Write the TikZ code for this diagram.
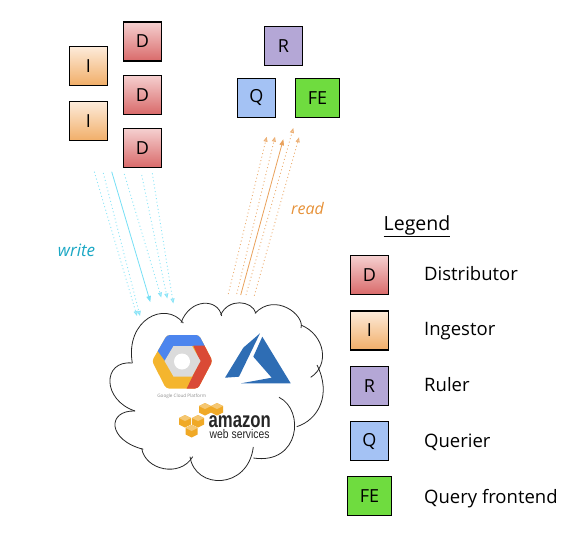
\documentclass[tikz,border=0pt]{standalone}
\usepackage{fontspec}
\setmainfont{Open Sans}
\newfontfamily\awsfont{Liberation Sans}
\usepackage{tikz}
\usetikzlibrary{positioning, arrows.meta}
\definecolor{redtop}{HTML}{F5D0D0}
\definecolor{redbot}{HTML}{D96A6A}
\definecolor{oratop}{HTML}{FDEBDA}
\definecolor{orabot}{HTML}{F1AE68}
\definecolor{rulerc}{HTML}{B4A7D6}
\definecolor{querc}{HTML}{A4C2F4}
\definecolor{fec}{HTML}{6FDC3F}
\definecolor{wrtc}{HTML}{76DFF5}
\definecolor{wrtt}{HTML}{1AA7C4}
\definecolor{rdc}{HTML}{E9A15B}
\definecolor{rdt}{HTML}{E69138}
\definecolor{gblue}{HTML}{4C85EE}
\definecolor{gred}{HTML}{DA4A36}
\definecolor{gyel}{HTML}{F4B52E}
\definecolor{azc}{HTML}{2E6DB4}
\definecolor{awsc}{HTML}{F0A926}
\newcommand{\awscube}[1]{%
  \fill[awsc, shift={(#1)}] (0,-6) -- (6,-3) -- (6,3.5) -- (0,6.5) -- (-6,3.5) -- (-6,-3) -- cycle;
  \fill[awsc!65!white, shift={(#1)}] (0,-6) -- (6,-3) -- (0,0) -- (-6,-3) -- cycle;}
\begin{document}
\begin{tikzpicture}[x=1pt, y=-1pt, node distance=13pt,
    box/.style={draw, line width=1.2pt, minimum width=38pt, minimum height=39pt,
      inner sep=0pt, font=\fontsize{18}{18}\selectfont},
    dbox/.style={box, top color=redtop, bottom color=redbot},
    ibox/.style={box, top color=oratop, bottom color=orabot},
    rbox/.style={box, fill=rulerc},
    qbox/.style={box, fill=querc},
    febox/.style={box, fill=fec, minimum width=44pt},
    legtext/.style={anchor=base west, inner sep=0pt, font=\fontsize{18.5}{20}\selectfont},
    wflow/.style={wrtc, line width=0.8pt, -{Triangle[length=6pt, width=4.5pt]}},
    rflow/.style={rdc, line width=0.8pt, -{Triangle[length=6pt, width=4.5pt]}},
    wdot/.style={wrtc!85, line width=0.9pt, dash pattern=on 1pt off 2.6pt,
      -{Triangle[open, fill=wrtc!40, length=5pt, width=4pt]}},
    rdot/.style={rdc!85, line width=0.9pt, dash pattern=on 1pt off 2.6pt,
      -{Triangle[open, fill=rdc!40, length=5pt, width=4pt]}},
    lobe/.style={black!85, line width=0.8pt}]
  \useasboundingbox (0,0) rectangle (577,535);
  % write side
  \node (d1) [dbox] at (142.5,41.5) {D};
  \node (d2) [dbox, below=of d1] {D};
  \node (d3) [dbox, below=of d2] {D};
  \node (i1) [ibox] at (88.5,66) {I};
  \node (i2) [ibox, below=15pt of i1] {I};
  % read side
  \node (r1) [rbox] at (283.5,46) {R};
  \node (q1) [qbox] at (256.5,98) {Q};
  \node (fe1) [febox] at (317.5,98) {FE};
  % flows
  \coordinate (w1a) at (94.3,171.7);  \coordinate (w1b) at (137,316);
  \coordinate (w2a) at (103.3,173);   \coordinate (w2b) at (140,316);
  \coordinate (w3a) at (111.7,171.7); \coordinate (w3b) at (150.3,302);
  \coordinate (w4a) at (124.3,174);   \coordinate (w4b) at (161.3,297.5);
  \coordinate (w5a) at (141.7,175);   \coordinate (w5b) at (167.3,298.5);
  \coordinate (w6a) at (152.3,173.3); \coordinate (w6b) at (173.3,303.5);
  \draw[wdot] (w1a)--(w1b);
  \draw[wdot] (w2a)--(w2b);
  \draw[wflow] (w3a)--(w3b);
  \draw[wdot] (w4a)--(w4b);
  \draw[wdot] (w5a)--(w5b);
  \draw[wdot] (w6a)--(w6b);
  \coordinate (r1a) at (228.3,294);   \coordinate (r1b) at (266.7,136.7);
  \coordinate (r2a) at (236.7,294);   \coordinate (r2b) at (275,136.7);
  \coordinate (r3a) at (240.7,295);   \coordinate (r3b) at (283.3,139.3);
  \coordinate (r4a) at (246,295);     \coordinate (r4b) at (293.3,128);
  \coordinate (r5a) at (254.3,295.7); \coordinate (r5b) at (299,137.3);
  \draw[rdot] (r1a)--(r1b);
  \draw[rdot] (r2a)--(r2b);
  \draw[rflow] (r3a)--(r3b);
  \draw[rdot] (r4a)--(r4b);
  \draw[rdot] (r5a)--(r5b);
  \node (wlabel) [wrtt, inner sep=0pt, font=\fontsize{17}{18}\selectfont\itshape] at (76.5,250) {write};
  \node (rlabel) [rdt, inner sep=0pt, font=\fontsize{16}{18}\selectfont\itshape] at (307.5,208) {read};
  % cloud
  \draw[lobe] (132.3,363) .. controls (125,320) and (165,300) .. (183.3,323);
  \draw[lobe] (181,322.7) .. controls (190,298) and (218,298) .. (221.7,316);
  \draw[lobe] (220.7,315) .. controls (228,298) and (252,300) .. (256,313.3);
  \draw[lobe] (255,313.3) .. controls (275,292) and (305,315) .. (301,328);
  \draw[lobe] (301,325) .. controls (325,335) and (330,365) .. (310.7,377.3);
  \draw[lobe] (317,365) .. controls (332,395) and (318,420) .. (296.7,426.7);
  \draw[lobe] (279,397.3) .. controls (305,410) and (300,465) .. (253.3,458);
  \draw[lobe] (253.3,447) .. controls (248,490) and (195,490) .. (190,456.7);
  \draw[lobe] (192.7,456.7) .. controls (180,478) and (145,470) .. (141.7,448.3);
  \draw[lobe] (143.3,449.3) .. controls (107,440) and (107,410) .. (135,411);
  \draw[lobe] (135,411) .. controls (102,400) and (102,360) .. (132.3,363);
  % google logo
  \begin{scope}
    \clip[rounded corners=3pt] (152,361) -- (167,335) -- (199,335) -- (212.5,361) -- (198,388.5) -- (166,388.5) -- cycle;
    \fill[gyel] (145,330) rectangle (220,395);
    \fill[gblue] (157.7,351) -- (165,361) -- (173.5,346) -- (215,345.7) -- (215,330) -- (148,330) -- (148,351) -- cycle;
    \fill[gred] (193.3,345.7) -- (215,345.7) -- (215,395) -- (186.7,395) -- (186.7,388.5) -- (200,361) -- cycle;
  \end{scope}
  \fill[black!14] (164.5,361) -- (173.5,346) -- (192,346) -- (200.5,361) -- (192,376.5) -- (173.5,376.5) -- cycle;
  \fill[white] (182,361.5) circle (8);
  \node (gcp) [inner sep=0pt, black!45, font=\fontsize{4.6}{5}\selectfont] at (181.7,396.7) {Google Cloud Platform};
  % azure logo
  \fill[azc] (260,333.3) -- (243.3,347.7) -- (225,377.7) -- (239,376.7) -- cycle;
  \fill[azc] (262.3,336.7) -- (290.7,383.3) -- (241,383.3) -- (271.7,377.7) -- (253.3,356.7) -- cycle;
  % aws logo
  \awscube{205,409}
  \awscube{217,409}
  \awscube{185,421}
  \awscube{198,421}
  \awscube{191.7,431}
  \node (aws1) [inner sep=0pt, anchor=base west, black!85, font=\awsfont\bfseries\fontsize{22}{22}\selectfont, xscale=.76, transform shape] at (208.5,427.5) {amazon};
  \node (aws2) [inner sep=0pt, anchor=base west, black!85, font=\awsfont\fontsize{12.5}{13}\selectfont, xscale=.83, transform shape] at (209.5,438.5) {web services};
  % legend
  \node (legend) [inner sep=0pt, font=\fontsize{19.5}{20}\selectfont] at (417,226) {\underline{Legend}};
  \node (ld) [dbox] at (369.5,275) {D};
  \node (li) [ibox] at (369.5,330.5) {I};
  \node (lr) [rbox] at (369.5,386) {R};
  \node (lq) [qbox] at (369.5,441) {Q};
  \node (lfe) [febox] at (369.5,496) {FE};
  \node (tdist) [legtext] at (424,280) {Distributor};
  \node (ting) [legtext] at (424,335.7) {Ingestor};
  \node (trul) [legtext] at (424,391.7) {Ruler};
  \node (tqur) [legtext] at (424,447.3) {Querier};
  \node (tfe) [legtext] at (424,503.3) {Query frontend};
\end{tikzpicture}
\end{document}
